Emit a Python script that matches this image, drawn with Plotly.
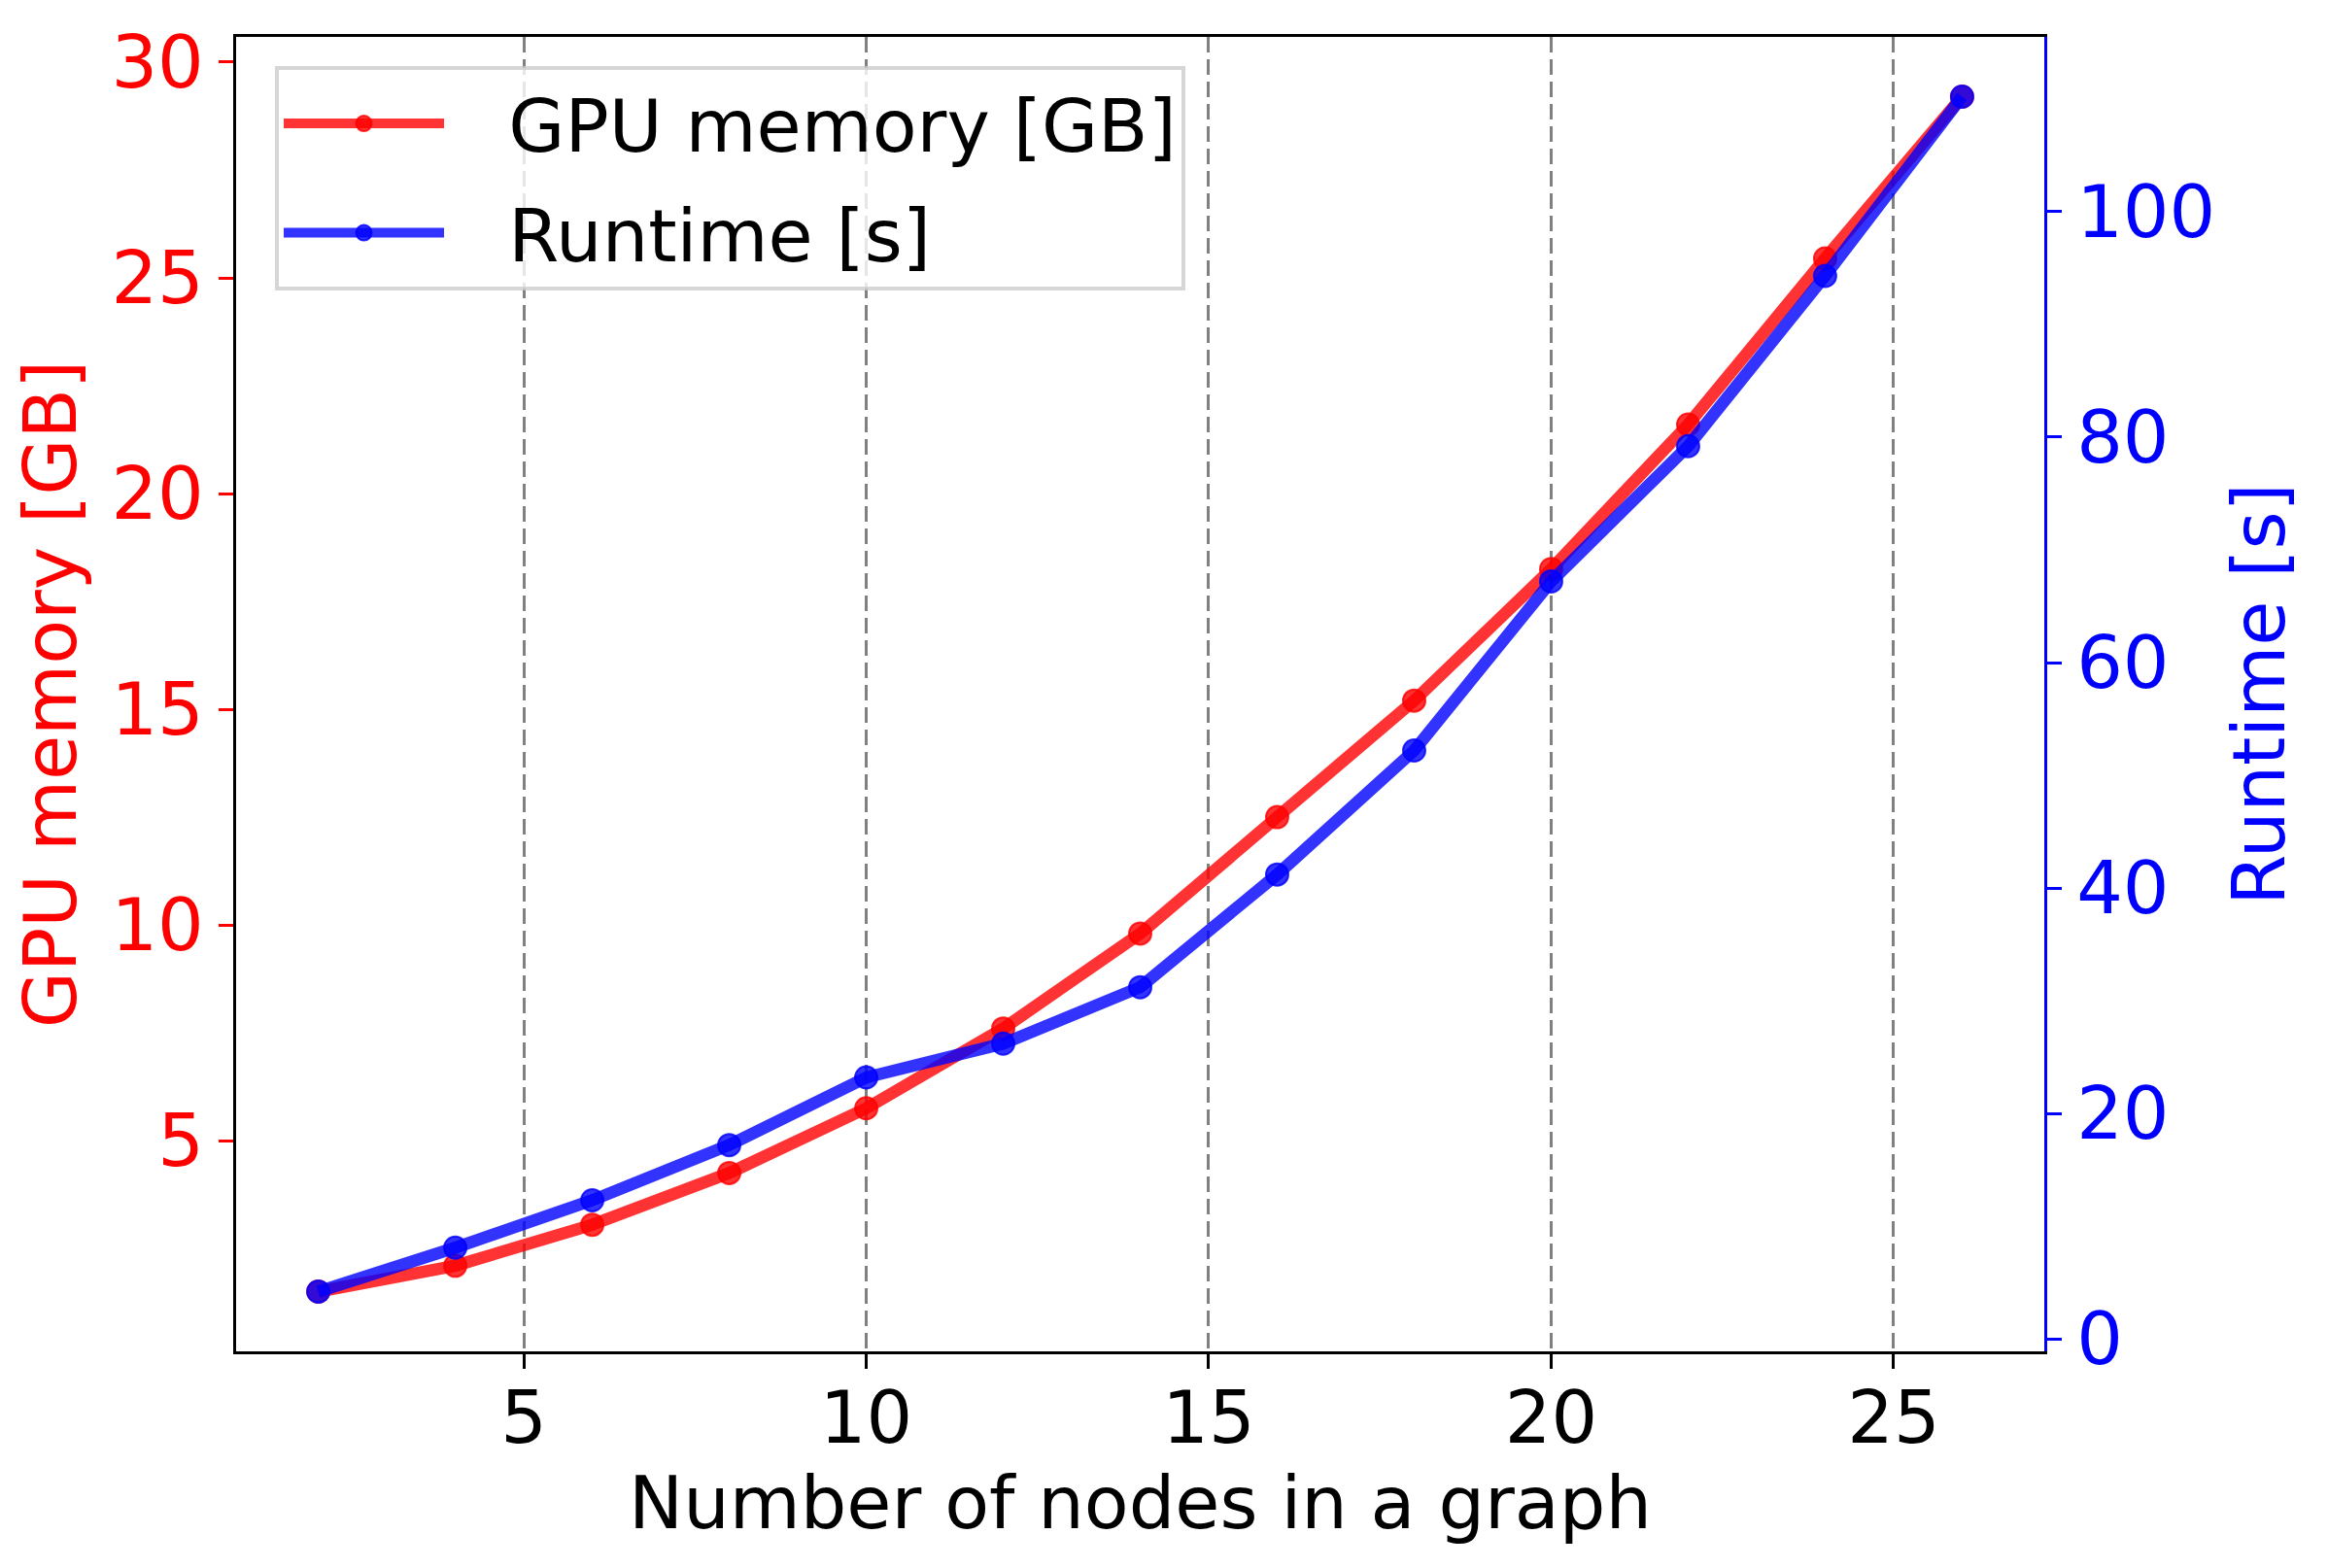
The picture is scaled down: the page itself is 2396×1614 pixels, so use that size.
import plotly.graph_objects as go

# data
nodes = [2, 4, 6, 8, 10, 12, 14, 16, 18, 20, 22, 24, 26]
gpu_memory_gb = [1.5, 2.1, 3.05, 4.25, 5.75, 7.6, 9.8, 12.5, 15.2, 18.25, 21.6, 25.45, 29.2]
runtime_s = [4.2, 8.1, 12.3, 17.2, 23.2, 26.2, 31.2, 41.2, 52.2, 67.2, 79.2, 94.3, 110.2]

x_ticks = [5, 10, 15, 20, 25]
mem_ticks = [5, 10, 15, 20, 25, 30]
rt_ticks = [0, 20, 40, 60, 80, 100]

FONT = "DejaVu Sans"
FS = 75  # 18 pt at 300 dpi, used for all text
RED = "rgba(255,0,0,0.8)"
BLUE = "rgba(0,0,255,0.8)"
GAP = "\u2002\u00a0"  # space between legend symbol and label


def padded(vals, frac=0.05):
    lo, hi = min(vals), max(vals)
    d = (hi - lo) * frac
    return [lo - d, hi + d]


def font(color="black"):
    return dict(family=FONT, size=FS, color=color)


fig = go.Figure()

fig.add_trace(go.Scatter(
    x=nodes, y=gpu_memory_gb, mode="lines+markers", name=GAP + "GPU memory [GB]",
    line=dict(color=RED, width=12.5),
    marker=dict(size=23, color=RED, line=dict(color=RED, width=2)),
    legendgroup="a",
))
fig.add_trace(go.Scatter(
    x=nodes, y=runtime_s, mode="lines+markers", name=GAP + "Runtime [s]", yaxis="y2",
    line=dict(color=BLUE, width=12.5),
    marker=dict(size=23, color=BLUE, line=dict(color=BLUE, width=2)),
    legendgroup="b",
))

# page body has an 8px margin, so the figure is shrunk by that much
fig.update_layout(
    width=2388, height=1606,
    margin=dict(l=235, r=292, t=24, b=223),
    paper_bgcolor="white", plot_bgcolor="white",
    font=font(),
    xaxis=dict(
        range=padded(nodes), tickvals=x_ticks,
        showgrid=True, gridcolor="#808080", gridwidth=3, griddash="16px,7px",
        zeroline=False, showline=True, linecolor="black", linewidth=3.3, mirror=True,
        ticks="outside", ticklen=15, tickwidth=3.3, tickcolor="black",
        ticklabelstandoff=-14,
        title=dict(text="Number of nodes in a graph", font=font(), standoff=6),
    ),
    yaxis=dict(
        range=padded(gpu_memory_gb), tickvals=mem_ticks,
        showgrid=False, zeroline=False,
        showline=True, linecolor="black", linewidth=3.3,
        ticks="outside", ticklen=15, tickwidth=3.3, tickcolor="red",
        tickfont=font("red"),
        title=dict(text="GPU memory [GB]", font=font("red"), standoff=14),
    ),
    yaxis2=dict(
        overlaying="y", side="right",
        range=padded(runtime_s), tickvals=rt_ticks,
        showgrid=False, zeroline=False,
        showline=True, linecolor="blue", linewidth=3.3,
        ticks="outside", ticklen=15, tickwidth=3.3, tickcolor="blue",
        tickfont=font("blue"),
        title=dict(text="Runtime [s]", font=font("blue"), standoff=20),
    ),
    legend=dict(
        x=0.0215, y=0.978, xanchor="left", yanchor="top",
        bgcolor="rgba(255,255,255,0.8)", bordercolor="rgba(204,204,204,0.8)", borderwidth=4,
        font=font(), itemwidth=165, tracegroupgap=12,
    ),
    showlegend=True,
)

fig.write_html("out.html")
